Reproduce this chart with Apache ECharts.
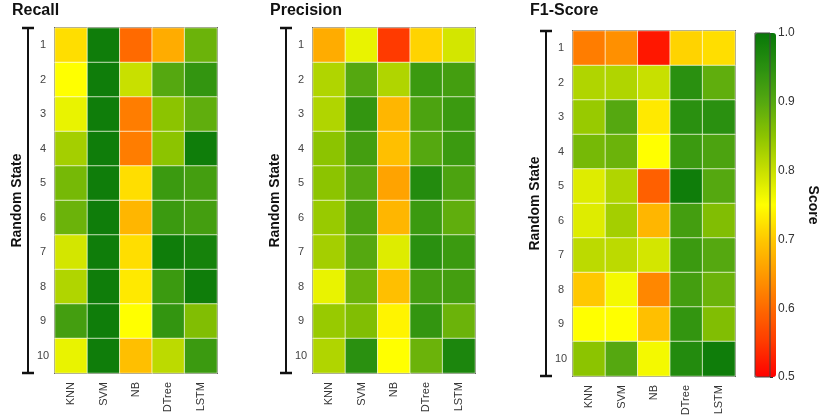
<!DOCTYPE html>
<html>
<head>
<meta charset="utf-8">
<script src="https://cdn.jsdelivr.net/npm/echarts@6/dist/echarts.min.js"></script>
<style>
  html, body { margin: 0; padding: 0; background: #fff; }
  #chart { width: 821px; height: 420px; }
</style>
</head>
<body>
<div id="chart"></div>
<script>
// Models on the x axis, random-state seeds on the y axis
var models = ['KNN', 'SVM', 'NB', 'DTree', 'LSTM'];
var states = ['1', '2', '3', '4', '5', '6', '7', '8', '9', '10'];
var scoreTicks = [0.5, 0.6, 0.7, 0.8, 0.9, 1.0];

// One row per random state, columns in the order of `models`
var recall = [
  [0.72, 0.99, 0.60, 0.67, 0.88],
  [0.75, 0.99, 0.80, 0.90, 0.94],
  [0.77, 0.99, 0.62, 0.85, 0.89],
  [0.83, 0.99, 0.62, 0.85, 0.99],
  [0.87, 0.99, 0.72, 0.93, 0.92],
  [0.88, 0.99, 0.68, 0.93, 0.92],
  [0.79, 0.99, 0.72, 0.99, 0.98],
  [0.82, 0.99, 0.73, 0.93, 0.99],
  [0.92, 0.99, 0.75, 0.94, 0.86],
  [0.77, 0.99, 0.69, 0.81, 0.93]
];
var precision = [
  [0.67, 0.77, 0.55, 0.71, 0.79],
  [0.82, 0.90, 0.82, 0.93, 0.92],
  [0.82, 0.94, 0.68, 0.91, 0.93],
  [0.85, 0.92, 0.69, 0.90, 0.93],
  [0.85, 0.90, 0.66, 0.96, 0.91],
  [0.84, 0.91, 0.68, 0.93, 0.89],
  [0.83, 0.90, 0.78, 0.95, 0.93],
  [0.77, 0.88, 0.69, 0.92, 0.92],
  [0.84, 0.86, 0.74, 0.94, 0.88],
  [0.82, 0.95, 0.75, 0.88, 0.97]
];
var f1 = [
  [0.62, 0.64, 0.52, 0.71, 0.72],
  [0.82, 0.82, 0.80, 0.95, 0.89],
  [0.84, 0.90, 0.73, 0.95, 0.95],
  [0.87, 0.88, 0.75, 0.93, 0.91],
  [0.78, 0.82, 0.59, 0.99, 0.90],
  [0.78, 0.83, 0.68, 0.92, 0.86],
  [0.81, 0.81, 0.79, 0.93, 0.90],
  [0.70, 0.76, 0.63, 0.92, 0.88],
  [0.75, 0.75, 0.69, 0.94, 0.86],
  [0.85, 0.90, 0.76, 0.96, 0.99]
];

var panels = [
  { title: 'Recall', values: recall, left: 55, top: 28, titleX: 12 },
  { title: 'Precision', values: precision, left: 313, top: 28, titleX: 270 },
  { title: 'F1-Score', values: f1, left: 573, top: 31, titleX: 530 }
];

var FONT = 'Liberation Sans, Arial, sans-serif';
var cellW = 162, cellH = 345;

function toCells(rows) {
  var out = [];
  rows.forEach(function (row, r) {
    row.forEach(function (v, c) { out.push([c, r, v]); });
  });
  return out;
}

var grids = [], xAxes = [], yAxes = [], series = [], titles = [];
panels.forEach(function (p, i) {
  grids.push({
    left: p.left, top: p.top, width: cellW, height: cellH,
    show: true, borderColor: '#333', borderWidth: 2, backgroundColor: 'transparent'
  });
  titles.push({
    text: p.title, left: p.titleX, top: 3, padding: 0,
    textStyle: { fontFamily: FONT, fontSize: 16, fontWeight: 'bold', color: '#111' }
  });
  xAxes.push({
    type: 'category', gridIndex: i, data: models, position: 'bottom',
    axisLine: { show: false }, axisTick: { show: false }, splitLine: { show: false },
    axisLabel: { rotate: 90, margin: 9, fontFamily: FONT, fontSize: 11, color: '#333' }
  });
  yAxes.push({
    type: 'category', gridIndex: i, data: states, inverse: true, offset: 27,
    name: 'Random State', nameLocation: 'middle', nameGap: 4,
    nameTextStyle: { fontFamily: FONT, fontSize: 14, fontWeight: 'bold', color: '#111' },
    axisLine: {
      show: true, symbol: ['rect', 'rect'], symbolSize: [12, 2.5],
      lineStyle: { color: '#111', width: 2 }
    },
    axisTick: { show: false }, splitLine: { show: false },
    axisLabel: { inside: true, margin: 15, align: 'center', fontFamily: FONT, fontSize: 11, color: '#444' }
  });
  series.push({
    type: 'heatmap', xAxisIndex: i, yAxisIndex: i, data: toCells(p.values),
    itemStyle: { borderColor: 'rgba(255,255,240,0.7)', borderWidth: 1 },
    emphasis: { disabled: true }
  });
});

// Colour scale axis beside the gradient bar
grids.push({
  left: 755, top: 33, width: 21, height: 344, z: 5,
  show: true, borderColor: '#444', borderWidth: 1, backgroundColor: 'transparent'
});
xAxes.push({ type: 'category', gridIndex: 3, data: [''], show: false });
yAxes.push({
  type: 'value', gridIndex: 3, position: 'right', min: scoreTicks[0], max: scoreTicks[scoreTicks.length - 1], interval: 0.1,
  name: 'Score', nameLocation: 'middle', nameRotate: -90, nameGap: 36,
  nameTextStyle: { fontFamily: FONT, fontSize: 14, fontWeight: 'bold', color: '#111' },
  axisLine: { show: false }, splitLine: { show: false },
  axisTick: { show: true, length: 3, lineStyle: { color: '#333' } },
  axisLabel: { margin: 8, fontFamily: FONT, fontSize: 12, color: '#333', formatter: function (v) { return v.toFixed(1); } }
});

var chart = echarts.init(document.getElementById('chart'));
chart.setOption({
  animation: false,
  backgroundColor: '#fff',
  title: titles,
  grid: grids,
  xAxis: xAxes,
  yAxis: yAxes,
  visualMap: {
    type: 'continuous', min: 0.5, max: 1.0, seriesIndex: [0, 1, 2],
    calculable: false, left: 755, top: 33, itemWidth: 21, itemHeight: 344,
    padding: 0, text: null, showLabel: false, z: 1,
    inRange: {
      color: ['#ff0000', '#ff3a00', '#ff6a00', '#ff9a00', '#ffc800', '#ffff00',
              '#c8e000', '#8cc400', '#55a810', '#2a9010', '#087808']
    }
  },
  series: series
});
</script>
</body>
</html>
